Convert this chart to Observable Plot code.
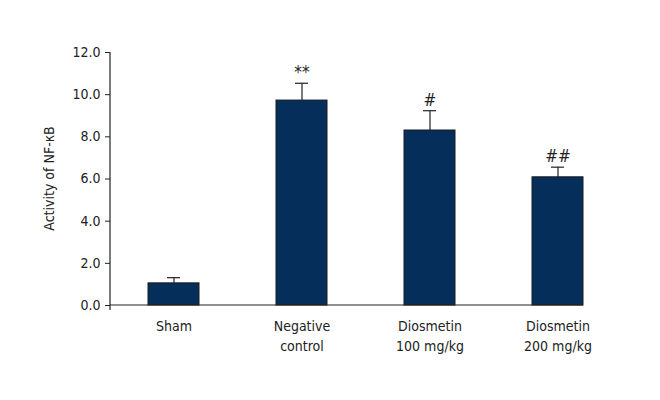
<!DOCTYPE html>
<html>
<head>
<meta charset="utf-8">
<script src="https://cdn.jsdelivr.net/npm/d3@7"></script>
<script src="https://cdn.jsdelivr.net/npm/@observablehq/plot@0.6"></script>
<style>
  body { margin: 0; background: #fff; }
  #chart svg, #chart svg text { font-family: "DejaVu Sans", sans-serif; font-stretch: condensed; }
</style>
</head>
<body>
<div id="chart"></div>
<script>
const categories = ["Sham", "Negative\ncontrol", "Diosmetin\n100 mg/kg", "Diosmetin\n200 mg/kg"];
const values = [1.05, 9.72, 8.3, 6.08];
const errors = [0.27, 0.82, 0.94, 0.48];
const marks = ["", "**", "#", "##"];
const yTicks = [0, 2, 4, 6, 8, 10, 12];

const data = categories.map((c, i) => ({ cat: c, v: values[i], top: values[i] + errors[i], m: marks[i] }));

const chart = Plot.plot({
  width: 660,
  height: 400,
  marginLeft: 110,
  marginRight: 38,
  marginTop: 52,
  marginBottom: 95,
  style: { fontFamily: "'DejaVu Sans', sans-serif", fontSize: "14px", color: "#222" },
  x: { domain: categories, paddingInner: 0.6, paddingOuter: 0.3, align: 0.5 },
  y: { domain: [0, 12] },
  marks: [
    Plot.ruleX(data, { x: "cat", y1: "v", y2: "top", stroke: "#333", strokeWidth: 1.3 }),
    Plot.tickY(data, { x: "cat", y: "top", stroke: "#333", strokeWidth: 1.3, insetLeft: 19, insetRight: 19 }),
    Plot.barY(data, { x: "cat", y: "v", fill: "#062e5a", stroke: "#1a1a1a", strokeWidth: 1 }),
    Plot.text(data, { x: "cat", y: "top", text: "m", dy: -5, lineAnchor: "bottom", fontSize: 17, fill: "#222" }),
    Plot.axisY({ ticks: yTicks, tickFormat: d3.format(".1f"), tickSize: 5, tickPadding: 5, label: null, fontSize: 14, stroke: "#222" }),
    Plot.axisX({ tickSize: 0, tickPadding: 11, label: null, fontSize: 14, lineHeight: 1.45 })
  ]
});

// axis lines drawn from the library's scales
const xs = chart.scale("x");
const ys = chart.scale("y");
const svg = d3.select(chart);
svg.selectAll("text").style("font-stretch", "condensed");
const lastStart = xs.apply(categories[categories.length - 1]);
svg.append("line")
  .attr("x1", 110).attr("x2", lastStart + xs.bandwidth)
  .attr("y1", ys.apply(0)).attr("y2", ys.apply(0))
  .attr("stroke", "#222").attr("stroke-width", 1.2);
svg.append("line")
  .attr("x1", 110).attr("x2", 110)
  .attr("y1", ys.apply(12)).attr("y2", ys.apply(0) + 5)
  .attr("stroke", "#222").attr("stroke-width", 1.2);
svg.append("text")
  .attr("transform", `translate(54,${(ys.apply(0) + ys.apply(12)) / 2}) rotate(-90)`)
  .attr("text-anchor", "middle")
  .attr("font-size", 14)
  .attr("fill", "#222")
  .style("font-stretch", "condensed")
  .text("Activity of NF-κB");

document.getElementById("chart").appendChild(chart);
</script>
</body>
</html>
